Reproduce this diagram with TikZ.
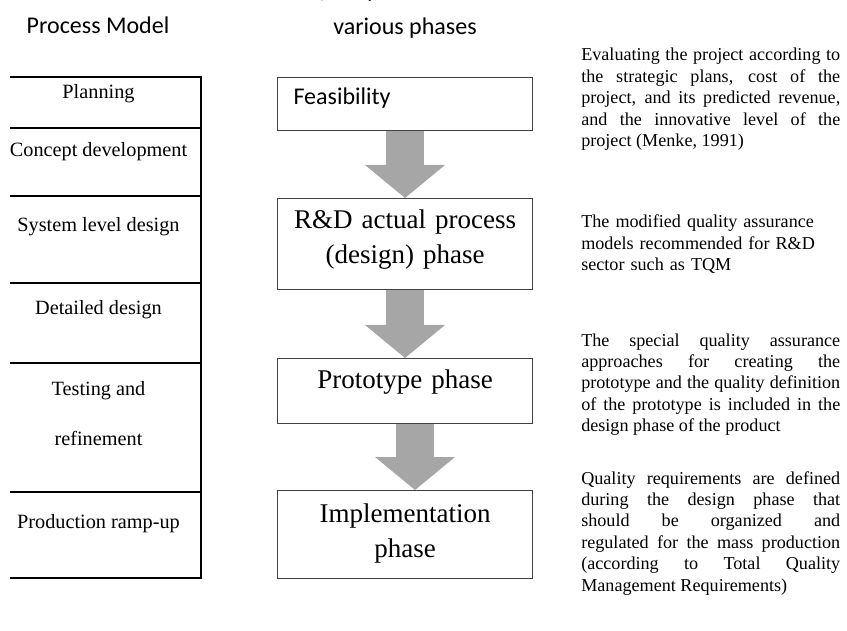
\documentclass[tikz,border=0pt]{standalone}
\usepackage{fontspec}
\setmainfont{Liberation Serif}
\newfontfamily\headfont{Carlito}
\usepackage{tikz}
\usetikzlibrary{
  arrows.meta,
  positioning
}
\definecolor{qaArrow}{RGB}{166,166,166}
\definecolor{qaEdge}{RGB}{64,64,64}
\tikzset{
  headText/.style={
    inner sep=0,
    align=center,
    font=\headfont\fontsize{18}{27.75}\selectfont
  },
  phaseBox/.style={
    draw=qaEdge,
    line width=0.8pt,
    inner sep=0,
    text width=191.25pt,
    align=center,
    font=\fontsize{20.25}{26.25}\selectfont
  },
  stageText/.style={
    inner sep=0,
    align=center,
    font=\fontsize{15.2}{37.5}\selectfont
  },
  noteText/.style={
    inner sep=0,
    text width=194.25pt,
    align=justify,
    font=\fontsize{13.6}{16.1}\selectfont
  },
  phaseArrow/.style={
    draw=qaArrow,
    line width=28.5pt,
    -{Triangle[width=60pt, length=24.75pt, line width=0pt]}
  },
  tableLine/.style={
    line width=1.9pt
  }
}

\begin{document}
\begin{tikzpicture}[x=0.75pt, y=-0.75pt]
  \useasboundingbox (0,0) rectangle (847,631);
  \clip (10,0) rectangle (847,631);

  % column headings
  \node[headText, anchor=base] (headModel) at (98,34)
    {Development\\Process Model};
  \node[headText, anchor=base] (headPhases) at (405,35)
    {Quality assurance in\\various phases};

  % stages of the process model
  \draw[tableLine] (0,77) -- (201,77) -- (201,578) -- (0,578);
  \foreach \y in {128,196,283,363,492}
    \draw[tableLine] (0,\y) -- (201,\y);

  \node[stageText, anchor=base] (planning) at (98.5,99) {Planning};
  \node[stageText, anchor=base] (concept) at (98.5,157) {Concept development};
  \node[stageText, anchor=base] (system) at (98.5,232) {System level design};
  \node[stageText, anchor=base] (detailed) at (98.5,315) {Detailed design};
  \node[stageText, anchor=base] (testing) at (98.5,445) {Testing and\\refinement};
  \node[stageText, anchor=base] (rampup) at (98.5,528) {Production ramp-up};

  % quality assurance phases
  \node[phaseBox, anchor=north west, text width=167.25pt, inner xsep=12pt,
    align=left, text height=20.25pt, text depth=19.5pt,
    font=\headfont\fontsize{18}{21.6}\selectfont]
    (feas) at (277,77) {Feasibility};
  \node[phaseBox, anchor=north west, text height=22.5pt, text depth=45.75pt]
    (rnd) at (277,198) {R\&D actual process\\(design) phase};
  \node[phaseBox, anchor=north west, text height=22.5pt, text depth=26.25pt]
    (proto) at (277,358) {Prototype phase};
  \node[phaseBox, anchor=north west, text height=24pt, text depth=42pt]
    (impl) at (277,490) {Implementation\\phase};

  \draw[phaseArrow] (feas) -- (rnd);
  \draw[phaseArrow] (rnd) -- (proto);
  \draw[phaseArrow] ([xshift=7.5pt]proto.south) -- ([xshift=7.5pt]impl.north);

  % notes beside each phase
  \node[noteText, anchor=base west] (noteFeas) at (581,61)
    {Evaluating the project according to\linebreak
     the strategic plans, cost of the\linebreak
     project, and its predicted revenue,\linebreak
     and the innovative level of the\linebreak
     project (Menke, 1991)};
  \node[noteText, anchor=base west, align=left] (noteRnd) at (581,228)
    {The modified quality assurance\\
     models recommended for R\&D\\
     sector such as TQM};
  \node[noteText, anchor=base west] (noteProto) at (581,346)
    {The special quality assurance\linebreak
     approaches for creating the\linebreak
     prototype and the quality definition\linebreak
     of the prototype is included in the\linebreak
     design phase of the product};
  \node[noteText, anchor=base west] (noteImpl) at (581,484)
    {Quality requirements are defined\linebreak
     during the design phase that\linebreak
     should be organized and\linebreak
     regulated for the mass production\linebreak
     (according to Total Quality\linebreak
     Management Requirements)};
\end{tikzpicture}
\end{document}
